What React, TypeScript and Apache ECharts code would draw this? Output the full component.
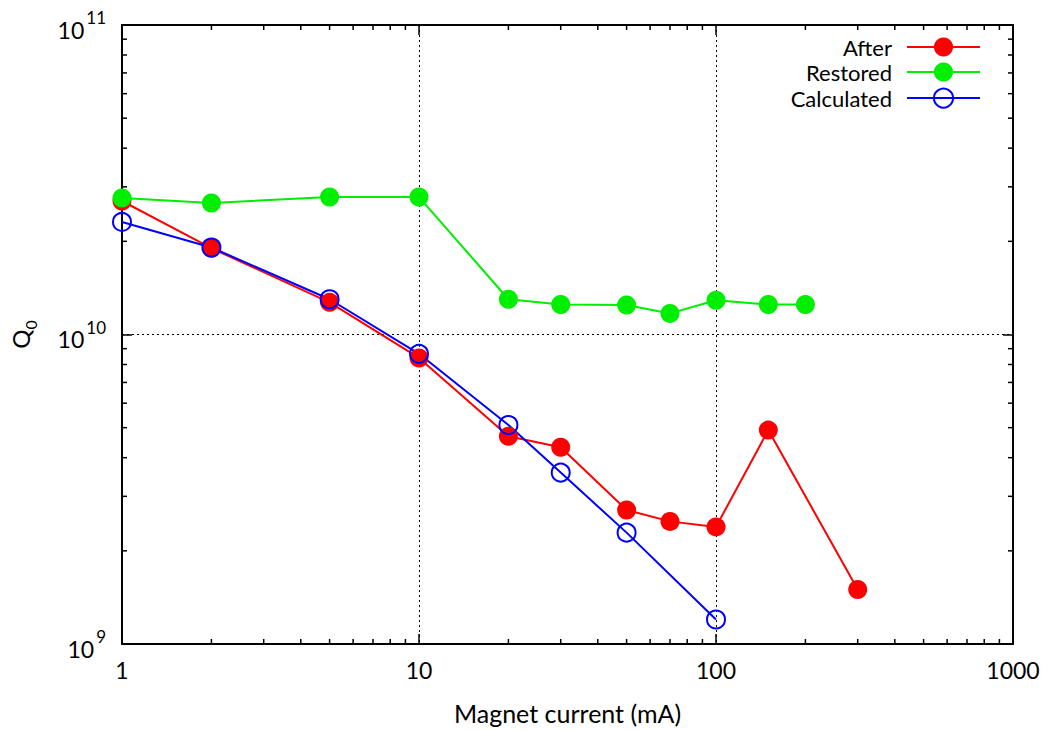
import React, { useEffect, useRef } from "react";
import * as echarts from "echarts";

const afterX = [1, 2, 5, 10, 20, 30, 50, 70, 100, 150, 300];
const afterQ = [2.7e10, 1.9e10, 1.27e10, 8.4e9, 4.69e9, 4.32e9, 2.71e9, 2.49e9, 2.39e9, 4.91e9, 1.5e9];
const restoredX = [1, 2, 5, 10, 20, 30, 50, 70, 100, 150, 200];
const restoredQ = [2.76e10, 2.66e10, 2.78e10, 2.78e10, 1.3e10, 1.25e10, 1.245e10, 1.17e10, 1.29e10, 1.25e10, 1.25e10];
const calcX = [1, 2, 5, 10, 20, 30, 50, 100];
const calcQ = [2.31e10, 1.91e10, 1.3e10, 8.66e9, 5.1e9, 3.58e9, 2.29e9, 1.2e9];

const xMinorTicks = [2, 3, 4, 5, 6, 7, 8, 9, 20, 30, 40, 50, 60, 70, 80, 90, 200, 300, 400, 500, 600, 700, 800, 900];
const yMinorTicks = [2e9, 3e9, 4e9, 5e9, 6e9, 7e9, 8e9, 9e9, 2e10, 3e10, 4e10, 5e10, 6e10, 7e10, 8e10, 9e10];

const X_MIN = 1;
const X_MAX = 1000;
const Y_MIN = 1e9;
const Y_MAX = 1e11;

const FONT = 'Lato, "Open Sans", sans-serif';

const zip = (xs: number[], ys: number[]) => xs.map((x, i) => [x, ys[i]]);

export default function App() {
  const ref = useRef<HTMLDivElement>(null);
  useEffect(() => {
    if (!ref.current) return;
    const chart = echarts.init(ref.current, undefined, { renderer: "svg" });
    const axisLine = { show: true, onZero: false, lineStyle: { color: "#000", width: 2 } };
    const axisTick = { show: true, inside: true, length: 10, lineStyle: { color: "#000", width: 1.5 } };
    const tickStyle = { stroke: "#000", lineWidth: 1.5 };
    const option: any = {
      animation: false,
      backgroundColor: "#fff",
      textStyle: { fontFamily: FONT },
      grid: { left: 116, right: 32, top: 25, bottom: 82 },
      legend: {
        data: ["After", "Restored", "Calculated"],
        orient: "vertical",
        right: 59,
        top: 31,
        align: "right",
        itemWidth: 73,
        itemHeight: 24,
        itemGap: 3,
        textStyle: { fontSize: 22, lineHeight: 22, color: "#000", fontFamily: FONT, padding: [0, 10, 0, 0] },
      },
      xAxis: [
        {
          type: "log",
          logBase: 10,
          min: X_MIN,
          max: X_MAX,
          position: "bottom",
          axisLine,
          axisTick,
          axisLabel: {
            fontSize: 23,
            color: "#000",
            margin: 14,
            fontFamily: FONT,
            formatter: (v: number) => String(Math.round(v)),
          },
          splitLine: { show: true, lineStyle: { color: "#000", width: 1, type: [2, 3] } },
          name: "Magnet current (mA)",
          nameLocation: "middle",
          nameGap: 56,
          nameTextStyle: { fontSize: 25, color: "#000", fontFamily: FONT },
        },
        {
          type: "log",
          logBase: 10,
          min: X_MIN,
          max: X_MAX,
          position: "top",
          axisLine,
          axisTick,
          axisLabel: { show: false },
          splitLine: { show: false },
        },
      ],
      yAxis: [
        {
          type: "log",
          logBase: 10,
          min: Y_MIN,
          max: Y_MAX,
          position: "left",
          axisLine,
          axisTick,
          axisLabel: {
            margin: 16,
            color: "#000",
            formatter: (v: number) => `{b|10}{s|${Math.round(Math.log10(v))}}`,
            rich: {
              b: { fontSize: 23, fontFamily: FONT, color: "#000", lineHeight: 32, verticalAlign: "bottom" },
              s: { fontSize: 17, fontFamily: FONT, color: "#000", verticalAlign: "top", padding: [0, 0, 0, 2] },
            },
          },
          splitLine: { show: true, lineStyle: { color: "#000", width: 1, type: [2, 3] } },
          name: "{q|Q}{z|0}",
          nameLocation: "middle",
          nameGap: 84,
          nameRotate: 90,
          nameTextStyle: {
            rich: {
              q: { fontSize: 24, fontFamily: FONT, color: "#000", lineHeight: 30, verticalAlign: "top" },
              z: { fontSize: 16, fontFamily: FONT, color: "#000", verticalAlign: "bottom" },
            },
          },
        },
        {
          type: "log",
          logBase: 10,
          min: Y_MIN,
          max: Y_MAX,
          position: "right",
          axisLine,
          axisTick,
          axisLabel: { show: false },
          splitLine: { show: false },
        },
      ],
      series: [
        {
          type: "custom",
          name: "xminor",
          xAxisIndex: 0,
          yAxisIndex: 0,
          silent: true,
          clip: false,
          data: xMinorTicks.map((v) => [v, Y_MIN]),
          renderItem: (_p: any, api: any) => {
            const v = api.value(0);
            const b = api.coord([v, Y_MIN]);
            const t = api.coord([v, Y_MAX]);
            return {
              type: "group",
              children: [
                { type: "line", shape: { x1: b[0], y1: b[1], x2: b[0], y2: b[1] - 5 }, style: tickStyle },
                { type: "line", shape: { x1: t[0], y1: t[1], x2: t[0], y2: t[1] + 5 }, style: tickStyle },
              ],
            };
          },
        },
        {
          type: "custom",
          name: "yminor",
          xAxisIndex: 0,
          yAxisIndex: 0,
          silent: true,
          clip: false,
          data: yMinorTicks.map((v) => [X_MIN, v]),
          renderItem: (_p: any, api: any) => {
            const v = api.value(1);
            const l = api.coord([X_MIN, v]);
            const r = api.coord([X_MAX, v]);
            return {
              type: "group",
              children: [
                { type: "line", shape: { x1: l[0], y1: l[1], x2: l[0] + 5, y2: l[1] }, style: tickStyle },
                { type: "line", shape: { x1: r[0], y1: r[1], x2: r[0] - 5, y2: r[1] }, style: tickStyle },
              ],
            };
          },
        },
        {
          type: "line",
          name: "After",
          data: zip(afterX, afterQ),
          symbol: "circle",
          symbolSize: 19,
          lineStyle: { color: "#ff0000", width: 2 },
          itemStyle: { color: "#ff0000" },
        },
        {
          type: "line",
          name: "Restored",
          data: zip(restoredX, restoredQ),
          symbol: "circle",
          symbolSize: 19,
          lineStyle: { color: "#00ee00", width: 2 },
          itemStyle: { color: "#00ee00" },
        },
        {
          type: "line",
          name: "Calculated",
          data: zip(calcX, calcQ),
          symbol: "circle",
          symbolSize: 18,
          lineStyle: { color: "#0000ff", width: 2 },
          itemStyle: { color: "none", borderColor: "#0000ff", borderWidth: 2 },
        },
      ],
    };
    chart.setOption(option);
    return () => chart.dispose();
  }, []);
  return (
    <div
      ref={ref}
      style={{ position: "fixed", left: 0, top: 0, width: 1045, height: 730, background: "#fff" }}
    />
  );
}
